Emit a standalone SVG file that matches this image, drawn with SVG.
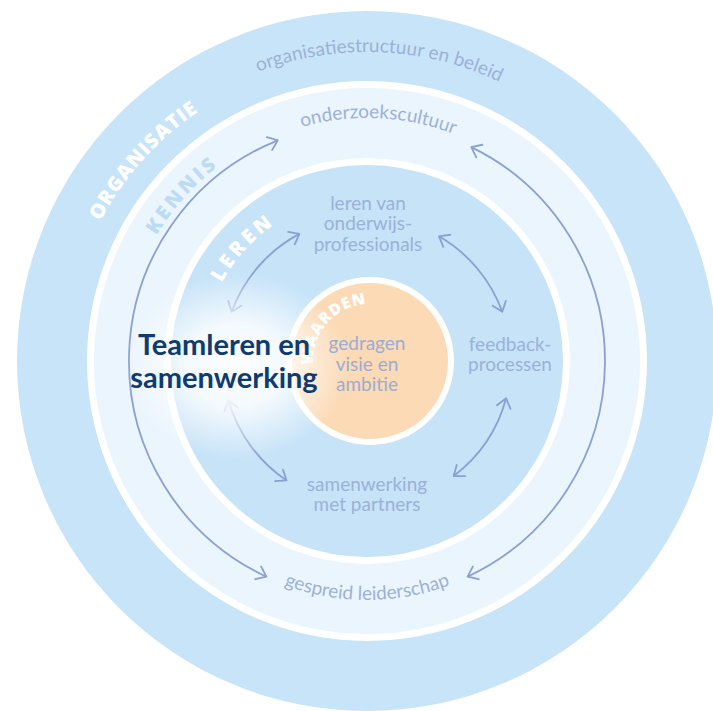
<svg xmlns="http://www.w3.org/2000/svg" width="713" height="711" viewBox="0 0 713 711">
<style>
.lbl{font-family:Lato,"Noto Sans","Liberation Sans",sans-serif;font-size:19px;fill:#9cb1d8;text-anchor:middle}
.ring{font-family:"Open Sans","Noto Sans","Liberation Sans",sans-serif;font-size:20px;font-weight:800;fill:#ffffff}
.big{font-family:Lato,"Noto Sans","Liberation Sans",sans-serif;font-size:29px;font-weight:700;fill:#0f3b70;text-anchor:middle}
.arc{fill:none;stroke:#8b9fd2;stroke-width:1.8;marker-start:url(#ah);marker-end:url(#ah)}
</style>
<defs>
<marker id="ah" markerUnits="userSpaceOnUse" markerWidth="20" markerHeight="20" viewBox="-12 -10 16 20" refX="0" refY="0" orient="auto-start-reverse">
<path d="M -9 -7 L 0 0 L -9 7" fill="none" stroke="#8b9fd2" stroke-width="1.8" stroke-linecap="round" stroke-linejoin="round"/>
</marker>
<radialGradient id="glow" cx="0.5" cy="0.5" r="0.5">
<stop offset="0" stop-color="#ffffff" stop-opacity="0.95"/>
<stop offset="0.45" stop-color="#ffffff" stop-opacity="0.8"/>
<stop offset="1" stop-color="#ffffff" stop-opacity="0"/>
</radialGradient>
<path id="pOrgT" d="M 58 361 A 309 309 0 0 1 676 361"/>
<path id="pKenT" d="M 124 361 A 243 243 0 0 1 610 361"/>
<path id="pKenB" d="M 128 361 A 239 239 0 0 0 606 361"/>
<path id="pOrgL" d="M 66 361 A 301 301 0 0 1 367 60"/>
<path id="pKenL" d="M 122 361 A 245 245 0 0 1 367 116"/>
<path id="pLerL" d="M 202 361 A 165 165 0 0 1 367 196"/>
<path id="pWaa" d="M 313 361 A 57 57 0 0 1 427 361"/>
</defs>
<rect width="713" height="711" fill="#ffffff"/>
<g id="rings">
<circle cx="367" cy="361" r="350" fill="#c8e4f8"/>
<circle cx="367" cy="361" r="276.5" fill="#ebf5fd" stroke="#ffffff" stroke-width="7"/>
<circle cx="367" cy="361" r="199.5" fill="#c6e3f8" stroke="#ffffff" stroke-width="7"/>
<circle cx="370" cy="361" r="81" fill="#fcdab6" stroke="#ffffff" stroke-width="6"/>
</g>
<g id="ring-labels">
<text class="ring" letter-spacing="1"><textPath href="#pOrgL" startOffset="220" text-anchor="middle">ORGANISATIE</textPath></text>
<text class="ring" letter-spacing="3" style="fill:#bcdcf4"><textPath href="#pKenL" startOffset="179" text-anchor="middle">KENNIS</textPath></text>
<text class="ring" letter-spacing="3.5"><textPath href="#pLerL" startOffset="122" text-anchor="middle">LEREN</textPath></text>
<text class="ring" letter-spacing="0.8" style="font-size:16px"><textPath href="#pWaa" startOffset="41" text-anchor="middle">WAARDEN</textPath></text>
</g>
<g id="connectors">
<path class="arc" d="M 277.8 140.3 A 238 238 0 0 0 266.4 576.7"/>
<path class="arc" d="M 471.3 147.1 A 238 238 0 0 1 467.6 576.7"/>
<path class="arc" d="M 231.7 311.8 A 144 144 0 0 1 299.4 233.9"/>
<path class="arc" d="M 439 236.3 A 144 144 0 0 1 502.3 311.8"/>
<path class="arc" d="M 506.1 398.3 A 144 144 0 0 1 453.7 476"/>
<path class="arc" d="M 286.5 480.4 A 144 144 0 0 1 228.6 400.7"/>
</g>
<ellipse id="glow-area" cx="236" cy="366" rx="112" ry="94" fill="url(#glow)"/>
<g id="node-organisatiestructuur">
<text class="lbl"><textPath href="#pOrgT" startOffset="498" text-anchor="middle">organisatiestructuur en beleid</textPath></text>
</g>
<g id="node-onderzoekscultuur">
<text class="lbl"><textPath href="#pKenT" startOffset="393" text-anchor="middle">onderzoekscultuur</textPath></text>
</g>
<g id="node-gespreid-leiderschap">
<text class="lbl"><textPath href="#pKenB" startOffset="375.4" text-anchor="middle">gespreid leiderschap</textPath></text>
</g>
<g id="node-leren-van">
<text class="lbl" x="368" y="210">leren van</text>
<text class="lbl" x="368" y="230">onderwijs-</text>
<text class="lbl" x="368" y="251">professionals</text>
</g>
<g id="node-feedback">
<text class="lbl" x="510" y="351">feedback-</text>
<text class="lbl" x="510" y="371">processen</text>
</g>
<g id="node-samenwerking-partners">
<text class="lbl" x="367" y="491">samenwerking</text>
<text class="lbl" x="367" y="511">met partners</text>
</g>
<g id="node-waarden">
<text class="lbl" x="367" y="350" style="fill:#9aadd2">gedragen</text>
<text class="lbl" x="367" y="371" style="fill:#9aadd2">visie en</text>
<text class="lbl" x="367" y="391" style="fill:#9aadd2">ambitie</text>
</g>
<g id="node-teamleren">
<text class="big" x="224" y="355">Teamleren en</text>
<text class="big" x="224" y="388">samenwerking</text>
</g>
</svg>
